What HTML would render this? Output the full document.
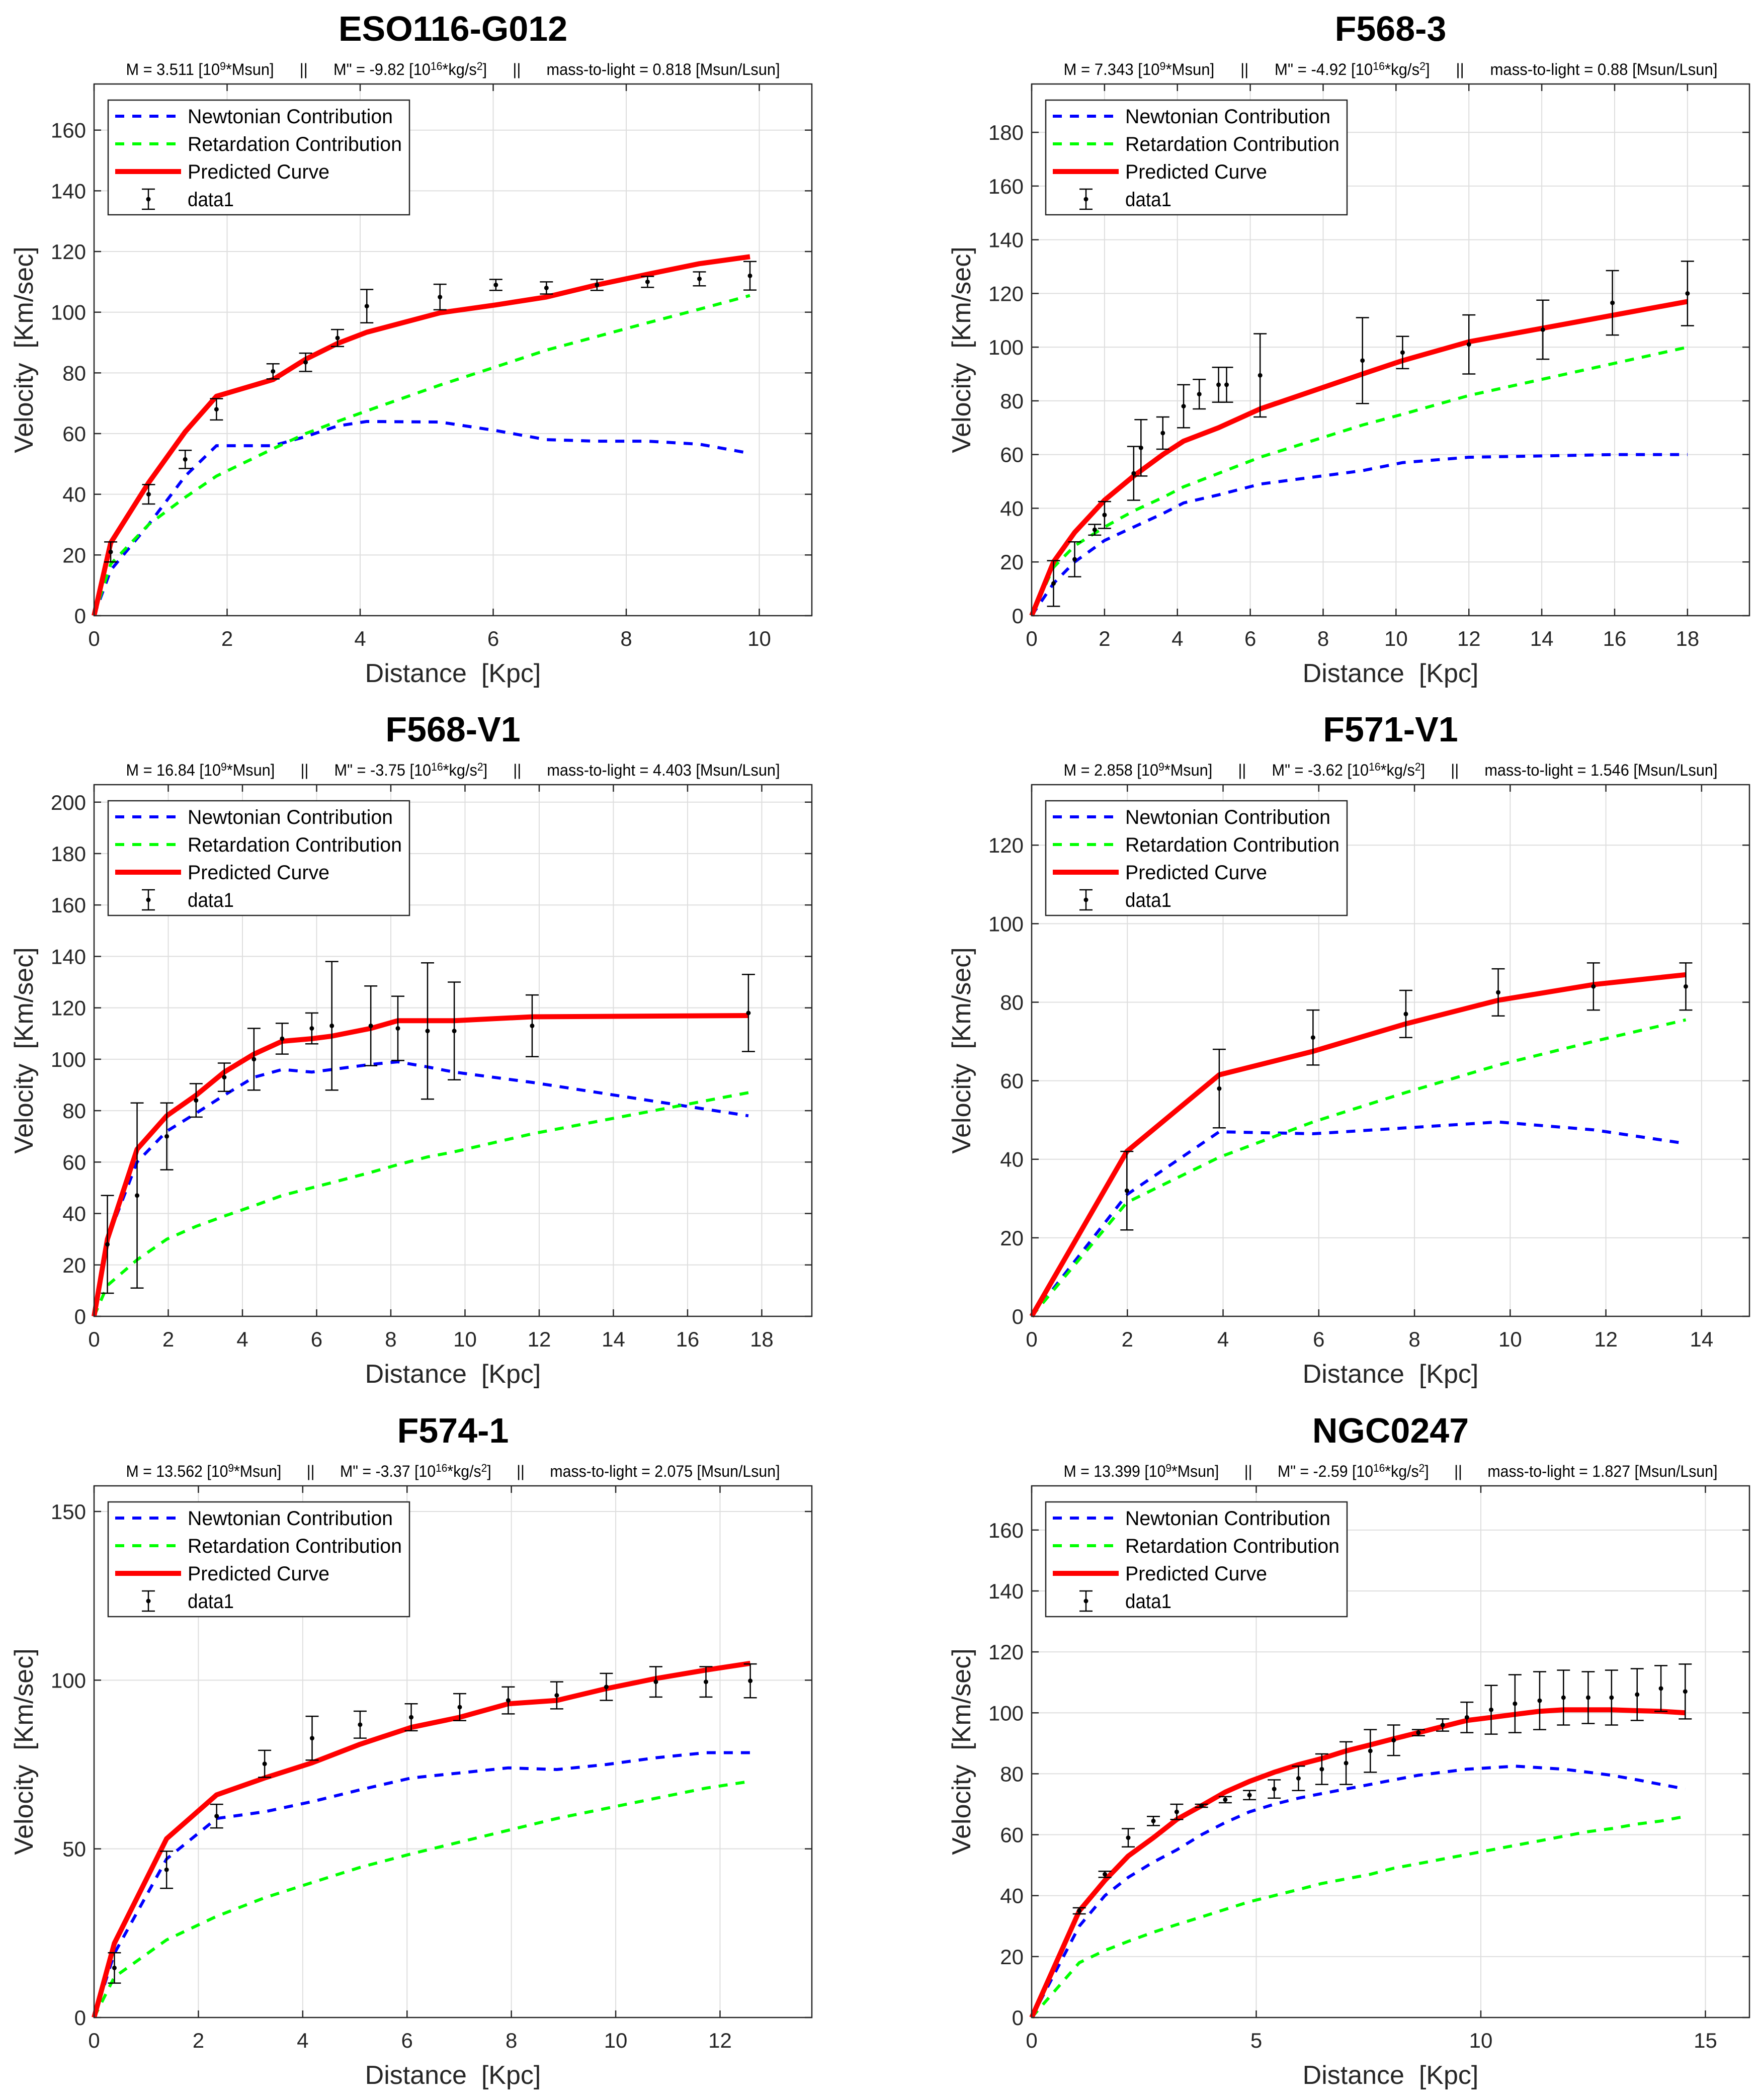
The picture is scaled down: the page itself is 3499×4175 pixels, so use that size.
<!DOCTYPE html>
<html><head><meta charset="utf-8">
<style>
html,body{margin:0;padding:0;background:#fff;}
svg{display:block;}
text{font-family:"Liberation Sans",Arial,sans-serif;white-space:pre;}
</style></head>
<body>
<svg id="fig" width="3499" height="4175" viewBox="0 0 3499 4175" xmlns="http://www.w3.org/2000/svg">
<rect width="3499" height="4175" fill="#fff"/>
</svg>
<script>
// ---------- data (per panel arrays) ----------
const titles = ["ESO116-G012","F568-3","F568-V1","F571-V1","F574-1","NGC0247"];
const massVals = ["3.511","7.343","16.84","2.858","13.562","13.399"];
const mddVals = ["-9.82","-4.92","-3.75","-3.62","-3.37","-2.59"];
const mlVals = ["0.818","0.88","4.403","1.546","2.075","1.827"];

const xMaxes = [10.79, 19.7, 19.35, 15.0, 13.76, 15.98];
const yMaxes = [175.2, 198, 206.8, 135.4, 157.6, 174.5];
const xTicks0 = [0,2,4,6,8,10];
const xTicks1 = [0,2,4,6,8,10,12,14,16,18];
const xTicks2 = [0,2,4,6,8,10,12,14,16,18];
const xTicks3 = [0,2,4,6,8,10,12,14];
const xTicks4 = [0,2,4,6,8,10,12];
const xTicks5 = [0,5,10,15];
const yTicks0 = [0,20,40,60,80,100,120,140,160];
const yTicks1 = [0,20,40,60,80,100,120,140,160,180];
const yTicks2 = [0,20,40,60,80,100,120,140,160,180,200];
const yTicks3 = [0,20,40,60,80,100,120];
const yTicks4 = [0,50,100,150];
const yTicks5 = [0,20,40,60,80,100,120,140,160];

// ESO116-G012
const r0 = [0,0.25,0.82,1.37,1.84,2.69,3.18,3.66,4.1,5.2,6.04,6.8,7.56,8.32,9.1,9.86];
const pred0 = [0,24,43.8,60.6,72.3,77.8,84.5,89.7,93.4,99.8,102.4,105,109,112.5,116,118.3];
const newt0 = [0,15,30,46,56,56,59,62.5,64,63.8,61,58,57.5,57.5,56.5,53.5];
const ret0 = [0,17,30,39,46,55,60,64,67.5,76,82,87.5,92,96.5,101,105.5];
const dx0 = [0.25,0.82,1.37,1.84,2.69,3.18,3.66,4.1,5.2,6.04,6.8,7.56,8.32,9.1,9.86];
const dy0 = [21,40,51.5,68,80.5,83.5,91.5,102,105,109,108,109,110,111,112];
const de0 = [3.3,3.2,3,3.5,2.5,3,2.8,5.5,4.2,1.8,2,1.8,1.8,2.3,4.7];

// F568-3
const r1 = [0,0.6,1.18,2,2.8,3.6,4.17,5.13,6.27,9.08,10.18,12,14,16,18];
const pred1 = [0,20,31,43,52,60,65,70,77,90,95,102,107,112,117];
const newt1 = [0,12,20,28,33,38,42,45,49,54,57,59,59.5,60,60];
const ret1 = [0,18,26,33,39,44,48,53,59,71,75,82,88,94,100];
const dx1 = [0.6,1.18,1.73,2.0,2.8,3.0,3.6,4.17,4.6,5.13,5.35,6.27,9.08,10.18,12.0,14.03,15.94,18.0];
const dy1 = [12,21,32,37.5,53,62.5,68,78,82.5,86,86,89.5,95,98,101,106.5,116.5,120];
const de1 = [8.5,6.5,2,5,10,10.5,6,8,5.5,6.5,6.5,15.5,16,6,11,11,12,12];

// F568-V1
const r2 = [0,0.36,1.16,1.96,2.75,3.51,4.31,5.07,5.87,6.41,7.46,8.19,8.99,9.71,11.81,17.64];
const pred2 = [0,30,65,78,86,95,102,107,108,109,112,115,115,115,116.5,117];
const newt2 = [0,30,60,72,79,86,93,96,95,96,98,99,97,95,91,78];
const ret2 = [0,12,22,30,35,39,43,47,50,52,56,59,62,64,71,87];
const dx2 = [0.36,1.16,1.96,2.75,3.51,4.31,5.07,5.87,6.41,7.46,8.19,8.99,9.71,11.81,17.64];
const dy2 = [28,47,70,84,93,100,108,112,113,113,112,111,111,113,118];
const de2 = [19,36,13,6.5,5.5,12,6,6,25,15.5,12.5,26.5,19,12,15];

// F571-V1
const r3 = [0,1.99,3.92,5.88,7.82,9.75,11.74,13.67];
const pred3 = [0,42,61.5,67.5,74.5,80.5,84.5,87];
const newt3 = [0,31,47,46.5,48,49.5,47.5,44];
const ret3 = [0,29,40.5,49.5,57,64,70,75.5];
const dx3 = [1.99,3.92,5.88,7.82,9.75,11.74,13.67];
const dy3 = [32,58,71,77,82.5,84,84];
const de3 = [10,10,7,6,6,6,6];

// F574-1
const r4 = [0,0.39,1.39,2.35,3.27,4.18,5.1,6.08,7.01,7.94,8.87,9.82,10.77,11.73,12.58];
const pred4 = [0,22,53,66,71,75.5,81,86,89,93,94,97.5,100.5,103,105];
const newt4 = [0,19,47,59,61,64,67.5,71,72.5,74,73.5,75,77,78.5,78.5];
const ret4 = [0,12,23,30,35.5,40,44.5,48.5,52,55.5,59,62,65,68,70];
const dx4 = [0.39,1.39,2.35,3.27,4.18,5.1,6.08,7.01,7.94,8.87,9.82,10.77,11.73,12.58];
const dy4 = [14.7,43.8,59.7,75.2,82.8,86.8,89,92,94,95.5,98,99.5,99.5,99.8];
const de4 = [4.5,5.5,3.5,4,6.5,4,4,4,4,4,4,4.5,4.5,5];

// NGC0247
const r5 = [0,1.06,1.63,2.15,2.71,3.23,3.78,4.31,4.85,5.4,5.94,6.46,7.0,7.54,8.06,8.61,9.15,9.69,10.23,10.76,11.31,11.84,12.39,12.91,13.48,14.01,14.55];
const pred5 = [0,35,45,53,59,65,69.5,74,77.5,80.5,83,85,87.5,89.5,91.5,93.5,95.5,97.5,98.5,99.5,100.5,101,101,101,100.7,100.5,100];
const newt5 = [0,30,40,46,51,55,60,64,67.5,70,72,73.5,75,76.5,78,79.5,80.5,81.5,82,82.5,82,81.5,80.5,79.5,78,76.5,75];
const ret5 = [0,18,22,25,28,30.5,33,35.5,38,40,42,44,45.5,47,49,50.5,52,53.5,55,56.5,58,59.5,61,62,63.5,64.5,66];
const dx5 = [1.06,1.63,2.15,2.71,3.23,3.78,4.31,4.85,5.4,5.94,6.46,7.0,7.54,8.06,8.61,9.15,9.69,10.23,10.76,11.31,11.84,12.39,12.91,13.48,14.01,14.55];
const dy5 = [35,47,59,64.5,67.5,69.5,71.5,73,75,78.5,81.5,83.5,87.5,91,93.5,96,98.5,101,103,104,105,105,105,106,108,107];
const de5 = [1,1,3,1.5,2.5,0.5,1,1.5,3,4,5,7,7,5,1,2,5,8,9.5,9.5,9,8.5,9,8.5,7.5,9];

// ---------- drawing ----------
const NS = "http://www.w3.org/2000/svg";
const svg = document.getElementById("fig");
function mk(tag, attrs, parent){
  const e = document.createElementNS(NS, tag);
  for (const k in attrs) e.setAttribute(k, attrs[k]);
  (parent||svg).appendChild(e);
  return e;
}
const panels = [
  {L:187,T:167,xt:xTicks0,yt:yTicks0,r:r0,p:pred0,n:newt0,g:ret0,dx:dx0,dy:dy0,de:de0},
  {L:2051,T:167,xt:xTicks1,yt:yTicks1,r:r1,p:pred1,n:newt1,g:ret1,dx:dx1,dy:dy1,de:de1},
  {L:187,T:1560,xt:xTicks2,yt:yTicks2,r:r2,p:pred2,n:newt2,g:ret2,dx:dx2,dy:dy2,de:de2},
  {L:2051,T:1560,xt:xTicks3,yt:yTicks3,r:r3,p:pred3,n:newt3,g:ret3,dx:dx3,dy:dy3,de:de3},
  {L:187,T:2954,xt:xTicks4,yt:yTicks4,r:r4,p:pred4,n:newt4,g:ret4,dx:dx4,dy:dy4,de:de4},
  {L:2051,T:2954,xt:xTicks5,yt:yTicks5,r:r5,p:pred5,n:newt5,g:ret5,dx:dx5,dy:dy5,de:de5}
];
const W = 1427, H = 1057;
panels.forEach((P, i) => {
  const g = mk("g", {});
  
  
  const L = P.L, T = P.T, B = T + H, R = L + W;
  const xs = v => L + v / xMaxes[i] * W;
  const ys = v => B - v / yMaxes[i] * H;
  const t = mk("text", {x: L + W/2, y: T - 86, "font-size": 70, "font-weight": "bold", "text-anchor": "middle"}, g);
  t.textContent = titles[i];
  
  
  const st = mk("text", {x: L + W/2, y: T - 18, "font-size": 32, "text-anchor": "middle", textLength: 1300, lengthAdjust: "spacingAndGlyphs"}, g);
  st.innerHTML = 'M = ' + massVals[i] + ' [10<tspan dy="-10" font-size="22">9</tspan><tspan dy="10">*Msun]      ||      M" = ' + mddVals[i] + ' [10</tspan><tspan dy="-10" font-size="22">16</tspan><tspan dy="10">*kg/s</tspan><tspan dy="-10" font-size="22">2</tspan><tspan dy="10">]      ||      mass-to-light = ' + mlVals[i] + ' [Msun/Lsun]</tspan>';
  
  
  P.xt.forEach(v => { if (v > 0) mk("line", {x1: xs(v), x2: xs(v), y1: T, y2: B, stroke: "#dedede", "stroke-width": 2}, g); });
  P.yt.forEach(v => { if (v > 0) mk("line", {x1: L, x2: R, y1: ys(v), y2: ys(v), stroke: "#dedede", "stroke-width": 2}, g); });
  P.xt.forEach(v => {
    mk("line", {x1: xs(v), x2: xs(v), y1: B, y2: B - 14, stroke: "#262626", "stroke-width": 2.5}, g);
    mk("line", {x1: xs(v), x2: xs(v), y1: T, y2: T + 14, stroke: "#262626", "stroke-width": 2.5}, g);
    const lb = mk("text", {x: xs(v), y: B + 60, "font-size": 42, "text-anchor": "middle", fill: "#262626"}, g);
    lb.textContent = v;
    
    
  });
  P.yt.forEach(v => {
    mk("line", {x1: L, x2: L + 14, y1: ys(v), y2: ys(v), stroke: "#262626", "stroke-width": 2.5}, g);
    mk("line", {x1: R, x2: R - 14, y1: ys(v), y2: ys(v), stroke: "#262626", "stroke-width": 2.5}, g);
    const lb = mk("text", {x: L - 16, y: ys(v) + 15, "font-size": 42, "text-anchor": "end", fill: "#262626"}, g);
    lb.textContent = v;
    
    
  });
  const xl = mk("text", {x: L + W/2, y: B + 132, "font-size": 52, "text-anchor": "middle", fill: "#262626"}, g);
  xl.textContent = "Distance  [Kpc]";
  
  
  const yl = mk("text", {x: 0, y: 0, "font-size": 52, "text-anchor": "middle", fill: "#262626", transform: "translate(" + (L - 122) + "," + (T + H/2) + ") rotate(-90)"}, g);
  yl.textContent = "Velocity  [Km/sec]";
  
  
  const pts = (xa, ya) => xa.map((x, k) => xs(x).toFixed(1) + "," + ys(ya[k]).toFixed(1)).join(" ");
  const ln = mk("polyline", {points: pts(P.r, P.n), fill: "none", stroke: "#0000ff", "stroke-width": 6, "stroke-dasharray": "18 16"}, g);
  
  
  const lg = mk("polyline", {points: pts(P.r, P.g), fill: "none", stroke: "#00ff00", "stroke-width": 6, "stroke-dasharray": "18 16"}, g);
  
  
  const lp = mk("polyline", {points: pts(P.r, P.p), fill: "none", stroke: "#ff0000", "stroke-width": 10, "stroke-linejoin": "round"}, g);
  
  
  P.dx.forEach((x, k) => {
    const eg = mk("g", {stroke: "#000", "stroke-width": 2.5}, g);
    
    
    const cx = xs(x), y1 = ys(P.dy[k] - P.de[k]), y2 = ys(P.dy[k] + P.de[k]);
    mk("line", {x1: cx, x2: cx, y1: y1, y2: y2}, eg);
    mk("line", {x1: cx - 13, x2: cx + 13, y1: y1, y2: y1}, eg);
    mk("line", {x1: cx - 13, x2: cx + 13, y1: y2, y2: y2}, eg);
    mk("circle", {cx: cx, cy: ys(P.dy[k]), r: 4.5, fill: "#000", stroke: "none"}, eg);
  });
  mk("rect", {x: L, y: T, width: W, height: H, fill: "none", stroke: "#262626", "stroke-width": 2.5}, g);
  const lgd = mk("g", {}, g);
  
  
  const LX = L + 28, LY = T + 32;
  mk("rect", {x: LX, y: LY, width: 599, height: 228, fill: "#fff", stroke: "#262626", "stroke-width": 2.5}, lgd);
  const names = ["Newtonian Contribution", "Retardation Contribution", "Predicted Curve", "data1"];
  const widths = [408, 426, 282, 92];
  names.forEach((nm, k) => {
    const ey = LY + 32 + k * 55;
    if (k === 0) mk("line", {x1: LX + 14, x2: LX + 145, y1: ey, y2: ey, stroke: "#0000ff", "stroke-width": 6, "stroke-dasharray": "18 16"}, lgd);
    if (k === 1) mk("line", {x1: LX + 14, x2: LX + 145, y1: ey, y2: ey, stroke: "#00ff00", "stroke-width": 6, "stroke-dasharray": "18 16"}, lgd);
    if (k === 2) mk("line", {x1: LX + 14, x2: LX + 145, y1: ey, y2: ey, stroke: "#ff0000", "stroke-width": 10}, lgd);
    if (k === 3) {
      const ix = LX + 80;
      mk("line", {x1: ix, x2: ix, y1: ey - 20, y2: ey + 20, stroke: "#000", "stroke-width": 2.5}, lgd);
      mk("line", {x1: ix - 13, x2: ix + 13, y1: ey - 20, y2: ey - 20, stroke: "#000", "stroke-width": 2.5}, lgd);
      mk("line", {x1: ix - 13, x2: ix + 13, y1: ey + 20, y2: ey + 20, stroke: "#000", "stroke-width": 2.5}, lgd);
      mk("circle", {cx: ix, cy: ey, r: 4.5, fill: "#000"}, lgd);
    }
    const tx = mk("text", {x: LX + 158, y: ey + 14, "font-size": 40, fill: "#000", textLength: widths[k], lengthAdjust: "spacingAndGlyphs"}, lgd);
    tx.textContent = nm;
    
    
  });
});
</script>
</body></html>
